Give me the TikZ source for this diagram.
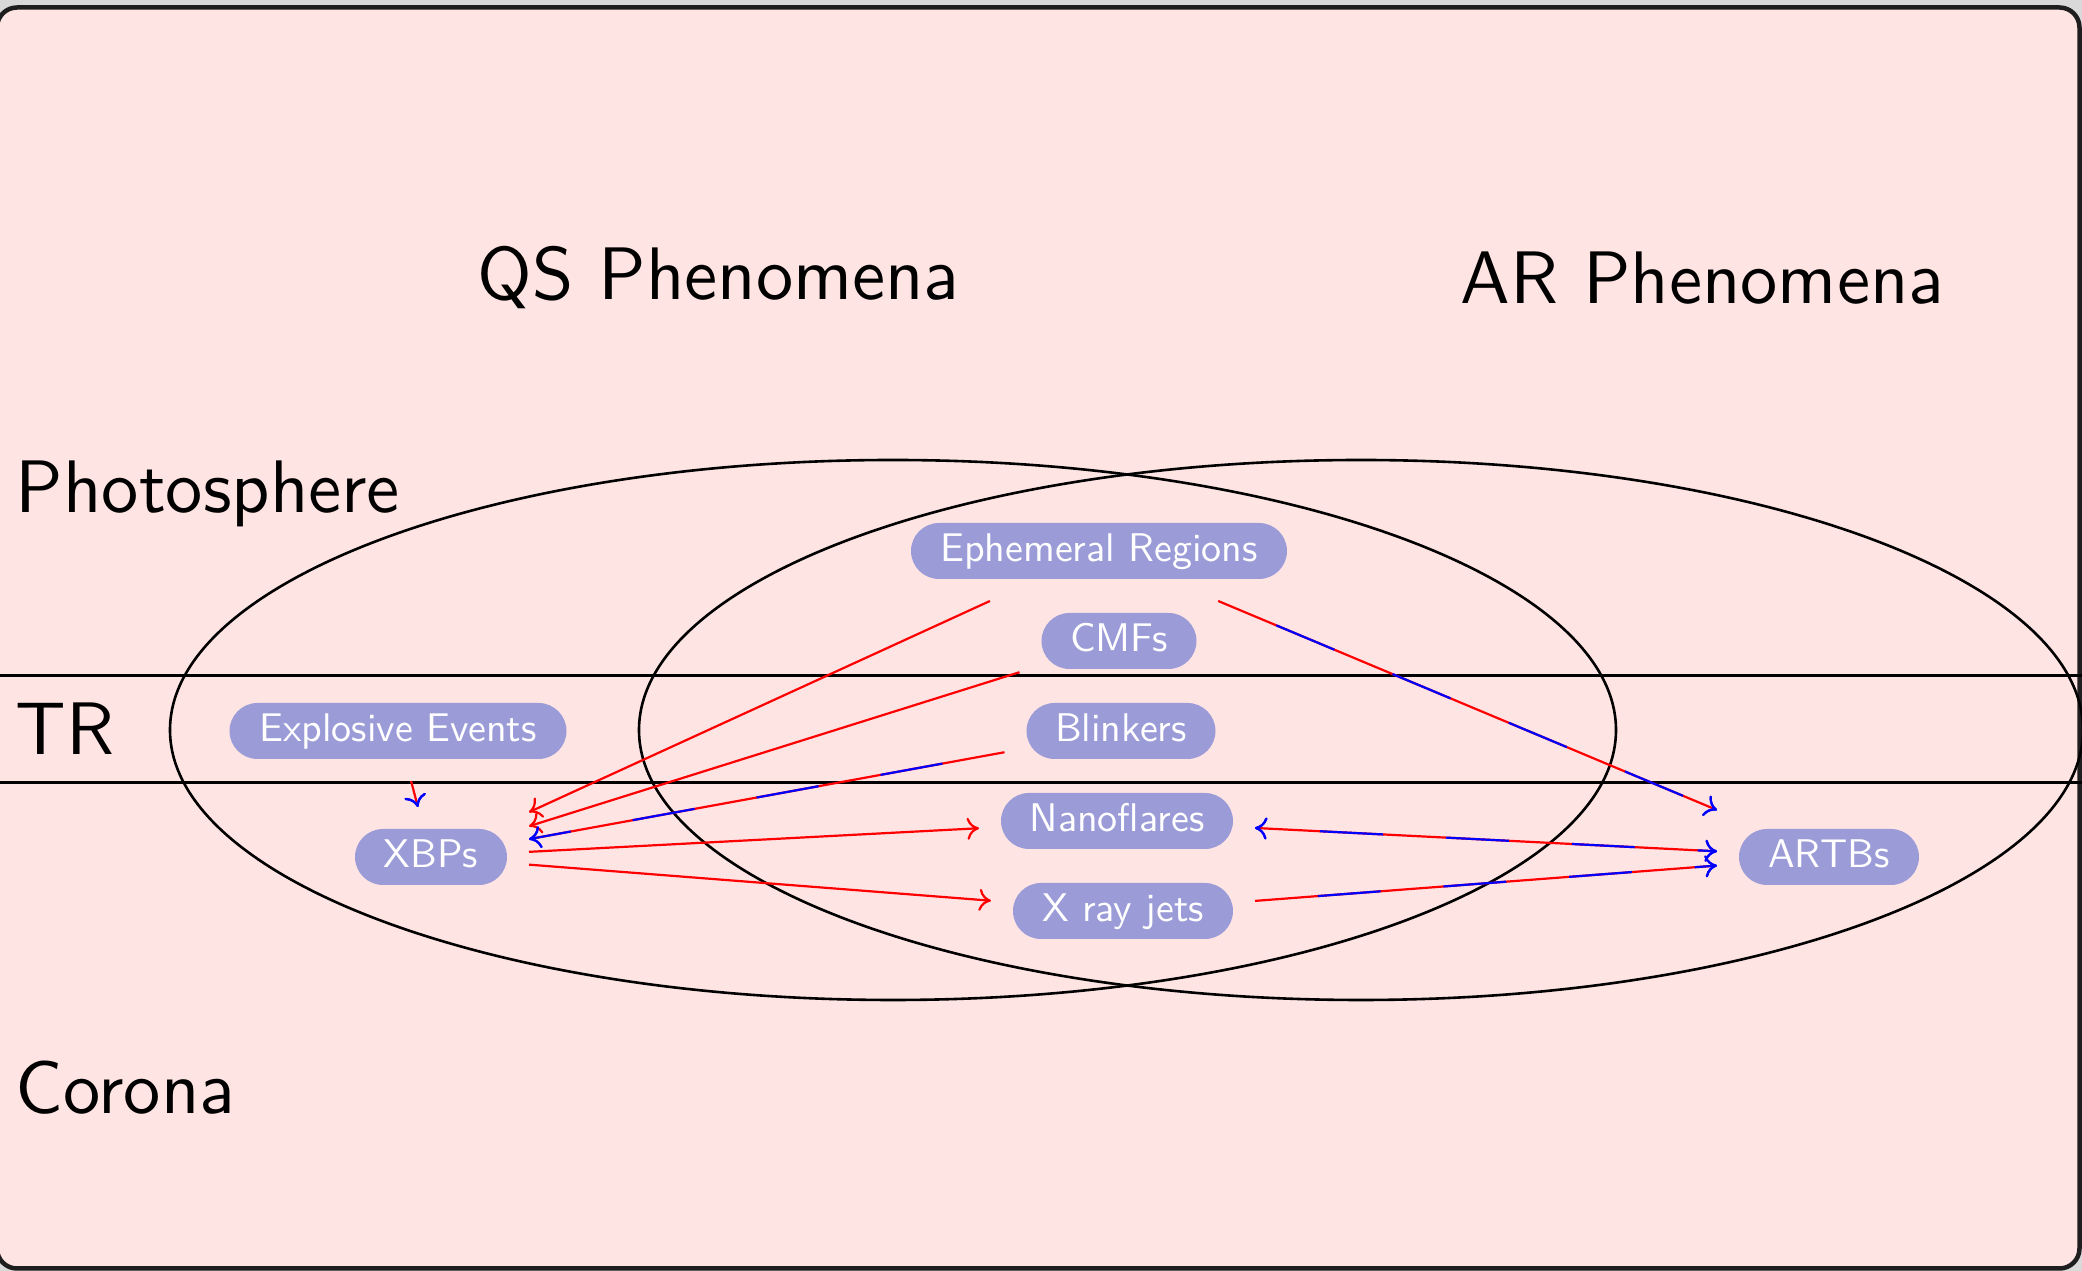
\documentclass[tikz,border=0pt]{standalone}
\usepackage{graphicx}
\usetikzlibrary{arrows.meta}
\definecolor{bgpink}{RGB}{255,228,228}
\definecolor{nodefill}{RGB}{155,155,216}
\definecolor{outergray}{RGB}{217,217,217}
\definecolor{framecol}{RGB}{30,30,30}
\newcommand{\headtxt}[1]{\scalebox{1.86}{#1}}
\begin{document}
\begin{tikzpicture}[x=0.25pt,y=-0.25pt,
  box/.style={fill=nodefill, text=white, rounded corners=7pt, minimum height=14pt,
    inner xsep=2pt, inner ysep=0pt, outer sep=5.5pt, text height=7.5pt, text depth=2pt,
    font=\sffamily\fontsize{10}{12}\selectfont},
  heading/.style={anchor=base west, inner sep=0pt, font=\sffamily\fontsize{10}{12}\selectfont},
  redarrow/.style={draw=red, line width=0.55pt, -{Computer Modern Rightarrow[length=3pt,width=5.5pt]}},
  mixarrow/.style={draw=red, line width=0.55pt, -{Computer Modern Rightarrow[length=3pt,width=5.5pt,color=blue]},
    postaction={draw=blue, dash pattern=on 15.75pt off 15.75pt, dash phase=15.75pt}},
  mixboth/.style={draw=red, line width=0.55pt, {Computer Modern Rightarrow[length=3pt,width=5.5pt,color=blue]}-{Computer Modern Rightarrow[length=3pt,width=5.5pt,color=blue]},
    postaction={draw=blue, dash pattern=on 15.75pt off 15.75pt, dash phase=15.75pt}},
  band/.style={line width=0.75pt, black},
  oval/.style={line width=0.65pt, black}
]
\useasboundingbox (0,0) rectangle (2082,1271);
\clip (0,0) rectangle (2082,1271);
% background and frame
\fill[outergray] (0,0) rectangle (2082,1271);
\draw[fill=bgpink, draw=framecol, line width=1.125pt, rounded corners=5pt] (-3,7.5) rectangle (2079.5,1268.5);

% headings
\node[heading] (qs) at (477,300) {\headtxt{QS Phenomena}};
\node[heading] (ar) at (1460,304) {\headtxt{AR Phenomena}};
\node[heading] (photo) at (15,513) {\headtxt{Photosphere}};
\node[heading] (tr) at (15,755) {\headtxt{TR}};
\node[heading] (corona) at (15,1114) {\headtxt{Corona}};

% layer lines
\draw[band] (-10,676) -- (2092,676);
\draw[band] (-10,783) -- (2092,783);

% ellipses
\draw[oval] (893,730) ellipse [x radius=180.75pt, y radius=67.5pt];
\draw[oval] (1361,730) ellipse [x radius=180.5pt, y radius=67.5pt];

% nodes
\node[box, minimum width=94pt] (er) at (1099,551) {Ephemeral Regions};
\node[box, minimum width=38.75pt] (cmf) at (1119,641) {CMFs};
\node[box, minimum width=47.25pt] (bl) at (1121,731) {Blinkers};
\node[box, minimum width=58pt] (nf) at (1117,821) {Nanoflares};
\node[box, minimum width=55pt] (xj) at (1123,911) {X ray jets};
\node[box, minimum width=84.25pt] (ee) at (398,731) {Explosive Events};
\node[box, minimum width=38pt] (xbp) at (431,857) {XBPs};
\node[box, minimum width=45pt] (artb) at (1829,857) {ARTBs};

% connectors
\draw[redarrow] (er) -- (xbp);
\draw[redarrow] (cmf) -- (xbp);
\draw[mixarrow] (bl) -- (xbp);
\draw[redarrow] (xbp) -- (nf);
\draw[redarrow] (xbp) -- (xj);
\draw[mixarrow] (ee) -- (xbp);
\draw[mixarrow] (er) -- (artb);
\draw[mixboth] (nf) -- (artb);
\draw[mixarrow] (xj) -- (artb);
\end{tikzpicture}
\end{document}
